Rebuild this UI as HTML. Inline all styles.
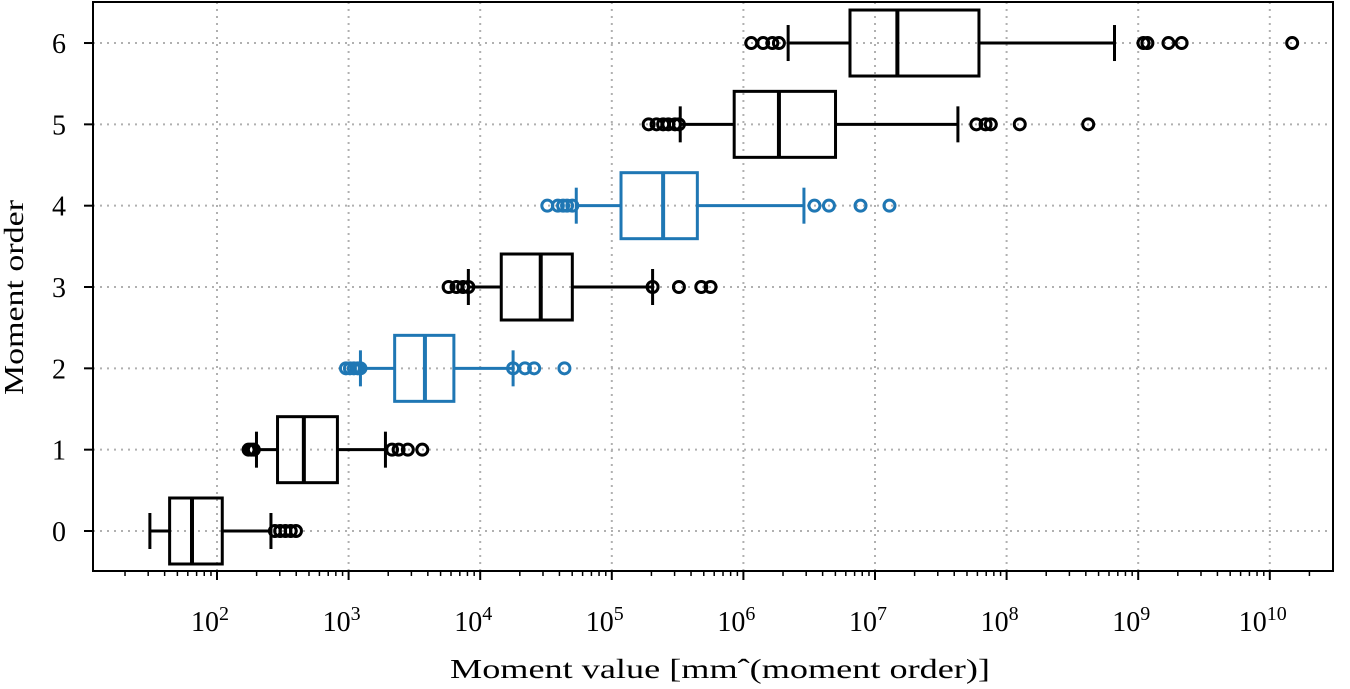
<!DOCTYPE html>
<html><head><meta charset="utf-8">
<style>
html,body{margin:0;padding:0;background:#fff;}
svg{display:block;font-family:"Liberation Serif",serif;}
</style></head>
<body>
<svg id="chart" width="1350" height="689" viewBox="0 0 1350 689" xmlns="http://www.w3.org/2000/svg">
<g id="grid"></g>
<g id="boxes"></g>
<rect x="93" y="2" width="1240" height="569" fill="none" stroke="#000" stroke-width="2"/>
<g id="axes"></g>
<text x="450" y="678" font-size="27" textLength="540" lengthAdjust="spacingAndGlyphs">Moment value [mmˆ(moment order)]</text>
<text transform="translate(23,395) rotate(-90)" font-size="27" textLength="195" lengthAdjust="spacingAndGlyphs">Moment order</text>
</svg>
<script>
// log10 values
const orders = [0,1,2,3,4,5,6];
const colors = ['#000','#000','#1f77b4','#000','#1f77b4','#000','#000'];
const whiskerLo = [1.49,2.30,3.09,3.91,4.73,5.52,6.34];
const q1 = [1.64,2.46,3.35,4.16,5.07,5.93,6.81];
const median = [1.81,2.66,3.58,4.46,5.39,6.27,7.17];
const q3 = [2.04,2.915,3.80,4.70,5.65,6.70,7.79];
const whiskerHi = [2.41,3.28,4.25,5.31,6.46,7.63,8.82];
const outliers = [
  [2.44,2.48,2.52,2.56,2.60],
  [2.24,2.26,2.28,3.33,3.38,3.45,3.56],
  [2.98,3.01,3.04,3.07,3.09,4.25,4.34,4.41,4.64],
  [3.76,3.82,3.87,3.91,5.31,5.51,5.68,5.75],
  [4.51,4.59,4.63,4.66,4.70,6.54,6.65,6.89,7.11],
  [5.28,5.34,5.39,5.43,5.48,5.51,7.77,7.84,7.88,8.10,8.62],
  [6.06,6.15,6.22,6.27,9.04,9.07,9.23,9.33,10.17]
];
const xTickExps = [2,3,4,5,6,7,8,9,10];
const yTicks = [0,1,2,3,4,5,6];

const NS='http://www.w3.org/2000/svg';
const xs = lg => 217 + (lg-2)*131.6;
const ys = v => 531 - v*81.33;
function mk(tag, attrs, parent){const e=document.createElementNS(NS,tag);for(const k in attrs)e.setAttribute(k,attrs[k]);parent.appendChild(e);return e;}
const grid=document.getElementById('grid'), boxes=document.getElementById('boxes'), axes=document.getElementById('axes');

xTickExps.forEach(p=>{
  const x=xs(p);
  const g=mk('line',{x1:x,x2:x,y1:2,y2:571,stroke:'#b0b0b0','stroke-width':2,'stroke-dasharray':'2,5'},grid);
  
  
  const t=mk('line',{x1:x,x2:x,y1:571,y2:580,stroke:'#000','stroke-width':2},axes);
  
  
  const lab=mk('text',{x:x-7,y:631,'font-size':28,'text-anchor':'middle'},axes);
  
  
  lab.textContent='10';
  const sup=mk('tspan',{dy:-11,'font-size':20},lab);
  sup.textContent=String(p);
});
for(let p=1;p<=10;p++){
  for(let m=2;m<=9;m++){
    const lg=p+Math.log10(m), x=xs(lg);
    if(x<94||x>1332) continue;
    const t=mk('line',{x1:x,x2:x,y1:571,y2:576,stroke:'#000','stroke-width':1.5},axes);
    
    
  }
}
yTicks.forEach(v=>{
  const y=ys(v);
  const g=mk('line',{x1:93,x2:1333,y1:y,y2:y,stroke:'#b0b0b0','stroke-width':2,'stroke-dasharray':'2,5'},grid);
  
  
  const t=mk('line',{x1:84,x2:93,y1:y,y2:y,stroke:'#000','stroke-width':2},axes);
  
  
  const lab=mk('text',{x:66,y:y+10,'font-size':28,'text-anchor':'end'},axes);
  
  
  lab.textContent=String(v);
});

orders.forEach((o,i)=>{
  const y=ys(o), c=colors[i];
  const g=mk('g',{},boxes);
  
  
  const w1=mk('line',{x1:xs(whiskerLo[i]),x2:xs(q1[i]),y1:y,y2:y,stroke:c,'stroke-width':3},g);
  
  
  const w2=mk('line',{x1:xs(q3[i]),x2:xs(whiskerHi[i]),y1:y,y2:y,stroke:c,'stroke-width':3},g);
  
  
  [whiskerLo[i],whiskerHi[i]].forEach(v=>{
    const cap=mk('line',{x1:xs(v),x2:xs(v),y1:y-18,y2:y+18,stroke:c,'stroke-width':3},g);
    
    
  });
  const r=mk('rect',{x:xs(q1[i]),y:y-33,width:xs(q3[i])-xs(q1[i]),height:66,fill:'none',stroke:c,'stroke-width':3},g);
  
  
  const m=mk('line',{x1:xs(median[i]),x2:xs(median[i]),y1:y-33,y2:y+33,stroke:c,'stroke-width':4},g);
  
  
  outliers[i].forEach(v=>{
    const ci=mk('circle',{cx:xs(v),cy:y,r:5.5,fill:'none',stroke:c,'stroke-width':3},g);
    
    
  });
});
</script>
</body></html>
